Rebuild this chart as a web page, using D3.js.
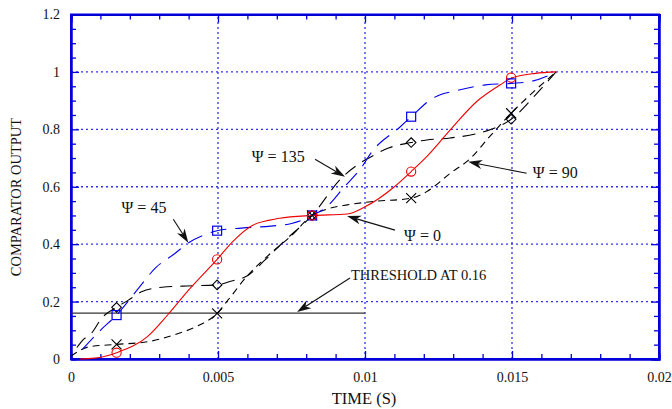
<!DOCTYPE html>
<html><head><meta charset="utf-8">
<script src="https://cdn.jsdelivr.net/npm/d3@7"></script>
<style>
body{margin:0;background:#fff}
svg{display:block}
text{font-family:"Liberation Serif","Times New Roman",serif;fill:#111}
</style>
</head><body><svg id="c" width="672" height="409"></svg>
<script>
// ---- data ----
const xTicks = [0, 0.005, 0.01, 0.015, 0.02];
const xTickLabels = ["0", "0.005", "0.01", "0.015", "0.02"];
const yTicks = [0, 0.2, 0.4, 0.6, 0.8, 1, 1.2];
const yTickLabels = ["0", "0.2", "0.4", "0.6", "0.8", "1", "1.2"];

// Psi = 0 (red, solid, circles)
const psi0T = [0.0003,0.0008,0.00155,0.0026,0.0033,0.00405,0.00497,0.0055,0.0062,0.0071,0.0082,0.0094,0.0100,0.0110,0.01157,0.0121,0.0129,0.0138,0.0146,0.01497,0.0158,0.0165];
const psi0V = [0,0.003,0.022,0.078,0.155,0.246,0.347,0.409,0.467,0.49,0.5,0.505,0.53,0.60,0.653,0.705,0.798,0.897,0.955,0.978,0.995,1.0];
// Psi = 45 (blue, long dash, squares)
const psi45T = [0.0004,0.0010,0.00155,0.0023,0.0029,0.0035,0.0040,0.0046,0.00497,0.0058,0.0068,0.0075,0.0079,0.0082,0.00864,0.0093,0.0099,0.0102,0.0112,0.01157,0.0123,0.0132,0.0141,0.01497,0.0156,0.0163,0.0165];
const psi45V = [0.035,0.10,0.153,0.247,0.32,0.365,0.405,0.435,0.447,0.456,0.463,0.472,0.485,0.5,0.525,0.60,0.67,0.717,0.809,0.844,0.908,0.937,0.955,0.96,0.966,0.99,1.0];
// Psi = 90 (black, short dash, crosses)
const psi90T = [0,0.0006,0.00155,0.0026,0.0035,0.0043,0.00497,0.0053,0.0060,0.0067,0.0075,0.0082,0.0088,0.0094,0.0102,0.01157,0.0121,0.0129,0.0136,0.0142,0.01497,0.0158,0.0165];
const psi90V = [0.01,0.042,0.051,0.06,0.084,0.115,0.159,0.2,0.29,0.36,0.43,0.5,0.525,0.537,0.548,0.56,0.583,0.647,0.70,0.77,0.856,0.937,1.0];
// Psi = 135 (black, long dash, diamonds)
const psi135T = [0.0002,0.0004,0.0007,0.00104,0.00155,0.00195,0.0024,0.0031,0.0038,0.00496,0.0054,0.0060,0.0066,0.0073,0.0082,0.0092,0.0098,0.0103,0.0108,0.01157,0.0121,0.0129,0.0138,0.0143,0.01497,0.0158,0.0165];
const psi135V = [0.04,0.066,0.09,0.142,0.18,0.205,0.234,0.25,0.254,0.258,0.27,0.29,0.345,0.415,0.5,0.63,0.68,0.71,0.735,0.754,0.763,0.77,0.785,0.80,0.835,0.92,1.0];

// marker samples
const markerT = [0.00155, 0.00497, 0.0082, 0.01157, 0.01497];
const psi0M = [0.022, 0.347, 0.5, 0.653, 0.98];
const psi45M = [0.153, 0.447, 0.5, 0.844, 0.96];
const psi90M = [0.051, 0.159, 0.5, 0.56, 0.856];
const psi135M = [0.18, 0.258, 0.5, 0.754, 0.835];

const thresholdValue = 0.16;
const thresholdRange = [0, 0.01];

// annotations: label, text anchor (t,v), arrow from (t,v) to tip (t,v)
const annLabels = ["Ψ = 45", "Ψ = 135", "Ψ = 90", "Ψ = 0", "THRESHOLD AT 0.16"];
const annText = [[0.00172,0.509],[0.00615,0.687],[0.01571,0.631],[0.01133,0.411],[0.00952,0.275]];
const annFrom = [[0.00348,0.487],[0.0083,0.696],[0.0155,0.647],[0.01102,0.449],[0.00949,0.282]];
const annTip  = [[0.00399,0.405],[0.00932,0.635],[0.01351,0.687],[0.00939,0.498],[0.00769,0.164]];

// ---- drawing ----
const svg = d3.select("#c");
const L = 71, R = 659, T = 14.5, B = 359;
const x = d3.scaleLinear().domain([0, 0.02]).range([L, R]);
const y = d3.scaleLinear().domain([0, 1.2]).range([B, T]);
const AX = "#0000d8", GRID = "#3030f0";

// grid
const g = svg.append("g");
g.selectAll(".gx").data(xTicks.slice(1, -1)).join("line")
  .attr("x1", d => x(d)).attr("x2", d => x(d)).attr("y1", B).attr("y2", T)
  .attr("stroke", GRID).attr("stroke-width", 1.3).attr("stroke-dasharray", "2,3");
g.selectAll(".gy").data(yTicks.slice(1, -1)).join("line")
  .attr("y1", d => y(d)).attr("y2", d => y(d)).attr("x1", L).attr("x2", R)
  .attr("stroke", GRID).attr("stroke-width", 1.3).attr("stroke-dasharray", "2,3");

// minor ticks via axes
const xMinor = d3.range(1, 20).map(i => i * 0.001).filter(d => Math.abs(d / 0.005 - Math.round(d / 0.005)) > 1e-6);
const yMinor = d3.range(1, 24).map(i => i * 0.05).filter(d => Math.abs(d / 0.2 - Math.round(d / 0.2)) > 1e-6);
function styleAxis(sel) {
  sel.selectAll("path").attr("stroke", AX).attr("stroke-width", 2);
  sel.selectAll("line").attr("stroke", AX).attr("stroke-width", 1.3);
}
svg.append("g").attr("transform", `translate(0,${B})`)
  .call(d3.axisBottom(x).tickValues(xMinor).tickSize(-5).tickFormat("")).call(styleAxis);
svg.append("g").attr("transform", `translate(0,${T})`)
  .call(d3.axisTop(x).tickValues(xMinor).tickSize(-5).tickFormat("")).call(styleAxis);
svg.append("g").attr("transform", `translate(${L},0)`)
  .call(d3.axisLeft(y).tickValues(yMinor).tickSize(-5).tickFormat("")).call(styleAxis);
svg.append("g").attr("transform", `translate(${R},0)`)
  .call(d3.axisRight(y).tickValues(yMinor).tickSize(-5).tickFormat("")).call(styleAxis);

// major axes with labels
const xa = svg.append("g").attr("transform", `translate(0,${B})`)
  .call(d3.axisBottom(x).tickValues(xTicks).tickFormat((d, i) => xTickLabels[i]).tickSizeInner(-8).tickSizeOuter(0).tickPadding(13))
  .call(styleAxis);
xa.selectAll("text").attr("font-size", 14).attr("fill", "#111").attr("font-family", "Liberation Serif");
const ya = svg.append("g").attr("transform", `translate(${L},0)`)
  .call(d3.axisLeft(y).tickValues(yTicks).tickFormat((d, i) => yTickLabels[i]).tickSizeInner(-8).tickSizeOuter(0).tickPadding(11))
  .call(styleAxis);
ya.selectAll("text").attr("font-size", 14).attr("fill", "#111").attr("font-family", "Liberation Serif");
svg.append("g").attr("transform", `translate(0,${T})`)
  .call(d3.axisTop(x).tickValues(xTicks).tickSize(-8).tickFormat("")).call(styleAxis);
svg.append("g").attr("transform", `translate(${R},0)`)
  .call(d3.axisRight(y).tickValues(yTicks).tickSize(-8).tickFormat("")).call(styleAxis);

// frame
svg.append("rect").attr("x", L).attr("y", T).attr("width", R - L).attr("height", B - T)
  .attr("fill", "none").attr("stroke", AX).attr("stroke-width", 2);

// axis titles
svg.append("text").attr("x", 364).attr("y", 404).attr("text-anchor", "middle")
  .attr("font-size", 16.5).text("TIME (S)");
svg.append("text").attr("transform", "translate(21,197) rotate(-90)").attr("text-anchor", "middle")
  .attr("font-size", 14.5).text("COMPARATOR OUTPUT");

// threshold
svg.append("line").attr("x1", x(thresholdRange[0])).attr("x2", x(thresholdRange[1]))
  .attr("y1", y(thresholdValue)).attr("y2", y(thresholdValue))
  .attr("stroke", "#333").attr("stroke-width", 1.3);

// curves
const line = d3.line().x(d => x(d[0])).y(d => y(d[1])).curve(d3.curveMonotoneX);
const series = [
  {t: psi135T, v: psi135V, m: psi135M, color: "#000", dash: "13,8", w: 1.1, mk: "diamond"},
  {t: psi90T, v: psi90V, m: psi90M, color: "#000", dash: "7,5", w: 1.1, mk: "cross"},
  {t: psi45T, v: psi45V, m: psi45M, color: "#0000ee", dash: "16,9", w: 1.1, mk: "square"},
  {t: psi0T, v: psi0V, m: psi0M, color: "#ee0000", dash: null, w: 1.1, mk: "circle"},
];
series.forEach(s => {
  const pts = s.t.map((t, i) => [t, s.v[i]]);
  svg.append("path").datum(pts).attr("d", line).attr("fill", "none")
    .attr("stroke", s.color).attr("stroke-width", s.w)
    .attr("stroke-dasharray", s.dash);
});
series.forEach(s => {
  const mg = svg.append("g");
  markerT.forEach((t, i) => {
    const cx = x(t), cy = y(s.m[i]);
    if (s.mk === "circle") {
      mg.append("circle").attr("cx", cx).attr("cy", cy).attr("r", 4.6)
        .attr("fill", "none").attr("stroke", s.color).attr("stroke-width", 1.1);
    } else if (s.mk === "square") {
      mg.append("rect").attr("x", cx - 4.5).attr("y", cy - 4.5).attr("width", 9).attr("height", 9)
        .attr("fill", "none").attr("stroke", s.color).attr("stroke-width", 1.2);
    } else if (s.mk === "diamond") {
      mg.append("path").attr("d", `M${cx},${cy - 4.8}L${cx + 4.8},${cy}L${cx},${cy + 4.8}L${cx - 4.8},${cy}Z`)
        .attr("fill", "none").attr("stroke", s.color).attr("stroke-width", 1.1);
    } else {
      mg.append("path").attr("d", `M${cx - 5},${cy - 5}L${cx + 5},${cy + 5}M${cx - 5},${cy + 5}L${cx + 5},${cy - 5}`)
        .attr("fill", "none").attr("stroke", s.color).attr("stroke-width", 1.1);
    }
  });
});

// annotations
annLabels.forEach((lab, i) => {
  const isThr = i === 4;
  svg.append("text").attr("x", x(annText[i][0])).attr("y", y(annText[i][1]))
    .attr("font-size", isThr ? 14.5 : 16).text(lab);
  const x1 = x(annFrom[i][0]), y1 = y(annFrom[i][1]);
  const x2 = x(annTip[i][0]), y2 = y(annTip[i][1]);
  const ang = Math.atan2(y2 - y1, x2 - x1);
  const len = 14, wid = 4.5, notch = 10;
  const bx = x2 - len * Math.cos(ang), by = y2 - len * Math.sin(ang);
  const nx = x2 - notch * Math.cos(ang), ny = y2 - notch * Math.sin(ang);
  const px = -Math.sin(ang) * wid, py = Math.cos(ang) * wid;
  svg.append("line").attr("x1", x1).attr("y1", y1).attr("x2", nx).attr("y2", ny)
    .attr("stroke", "#111").attr("stroke-width", 1.1);
  svg.append("path")
    .attr("d", `M${x2},${y2}L${bx + px},${by + py}L${nx},${ny}L${bx - px},${by - py}Z`)
    .attr("fill", "#111");
});
</script>
</body></html>
